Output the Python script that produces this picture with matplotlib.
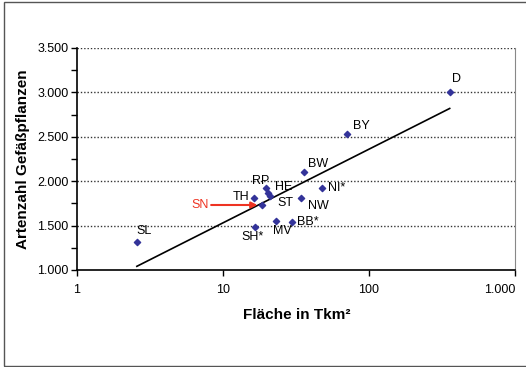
import numpy as np
import matplotlib.pyplot as plt
from matplotlib.patches import Rectangle
from matplotlib.ticker import FuncFormatter, FixedLocator

plt.rcParams['font.family'] = ['Liberation Sans', 'DejaVu Sans']

# Bundeslaender: Flaeche (Tkm2) und Artenzahl Gefaesspflanzen
laender = ['SL', 'TH', 'SN', 'RP', 'HE', 'ST', 'NW', 'BW', 'NI*', 'MV', 'BB*', 'SH*', 'D', 'BY']
flaeche = [2.57, 16.2, 18.4, 19.8, 20.2, 21.0, 34.1, 35.8, 47.6, 23.2, 29.5, 16.6, 357, 70.5]
arten = [1320, 1807, 1732, 1920, 1864, 1837, 1807, 2107, 1927, 1555, 1544, 1481, 3000, 2535]

# label offsets in pixels (dx, dy, ha, va)
label_pos = {
    'SL': (0, 5, 'left', 'bottom'),
    'TH': (-4, 1, 'right', 'center'),
    'RP': (-6, 1, 'center', 'bottom'),
    'HE': (7, 0, 'left', 'bottom'),
    'ST': (7, -1, 'left', 'top'),
    'NW': (7, -2, 'left', 'top'),
    'BW': (4, 2, 'left', 'bottom'),
    'NI*': (6, 0, 'left', 'center'),
    'MV': (6, -4, 'center', 'top'),
    'BB*': (5, 0, 'left', 'center'),
    'SH*': (-3, -4, 'center', 'top'),
    'D': (2, 7, 'left', 'bottom'),
    'BY': (6, 2, 'left', 'bottom'),
}

W, H = 526, 367
fig = plt.figure(figsize=(W / 100, H / 100), dpi=100)
ax = fig.add_axes([77 / W, 1 - 270 / H, (515 - 77) / W, (270 - 48) / H])

# outer chart border
fig.patches.append(Rectangle((4 / W, 1 / H), 1.2, (365 - 1) / H, transform=fig.transFigure,
                             fill=False, edgecolor='#555555', linewidth=1.0))

x = np.array(flaeche)
y = np.array(arten)

# logarithmic trend line
b, a = np.polyfit(np.log10(x), y, 1)
xt = np.array([x.min(), x.max()])
ax.plot(xt, a + b * np.log10(xt), color='black', linewidth=1.2, zorder=2)

ax.scatter(x, y, marker='D', s=10, color='#333399', zorder=3)

px = 0.72
for name, xi, yi in zip(laender, x, y):
    if name == 'SN':
        continue
    dx, dy, ha, va = label_pos[name]
    ax.annotate(name, (xi, yi), xytext=(dx * px, dy * px), textcoords='offset points',
                ha=ha, va=va, fontsize=9, color='black')

sn = laender.index('SN')
ax.annotate('SN', (x[sn], y[sn]), xytext=(-62 * px, 0), textcoords='offset points',
            ha='center', va='center', fontsize=9, color='#ee3322',
            arrowprops=dict(arrowstyle='-|>', color='#ee3322', lw=1.5,
                            shrinkA=0, shrinkB=3, mutation_scale=9))

ax.set_xscale('log')
ax.set_xlim(1, 1000)
ax.set_ylim(1000, 3500)

ax.xaxis.set_major_locator(FixedLocator([1, 10, 100, 1000]))
ax.xaxis.set_minor_locator(FixedLocator([]))
ax.yaxis.set_major_locator(FixedLocator(np.arange(1000, 3501, 500)))
ax.yaxis.set_minor_locator(FixedLocator(np.arange(1250, 3500, 500)))

de = FuncFormatter(lambda v, p: f'{v:,.0f}'.replace(',', '.'))
ax.xaxis.set_major_formatter(de)
ax.yaxis.set_major_formatter(de)

ax.tick_params(axis='both', which='both', direction='out', length=4, width=1,
               labelsize=9, colors='black')
ax.tick_params(axis='x', pad=6)
ax.tick_params(axis='y', pad=2)

# last x label sits inside the chart border
fig.canvas.draw()
ax.get_xticklabels()[-1].set_horizontalalignment('right')

for v in np.arange(1500, 3501, 500):
    ax.axhline(v, color='#333333', linestyle=(0, (1, 1.4)), linewidth=1.0, zorder=1)

ax.spines['top'].set_visible(False)
ax.spines['right'].set_color('#888888')
ax.spines['left'].set_linewidth(1.2)
ax.spines['bottom'].set_linewidth(1.2)

fig.text(23 / W, 1 - 159 / H, 'Artenzahl Gefäßpflanzen', rotation=90, ha='center', va='center',
         fontsize=11, fontweight='bold')
fig.text(297 / W, 1 - 315 / H, 'Fläche in Tkm²', ha='center', va='center',
         fontsize=11, fontweight='bold')

fig.savefig('out.png', dpi=100)
